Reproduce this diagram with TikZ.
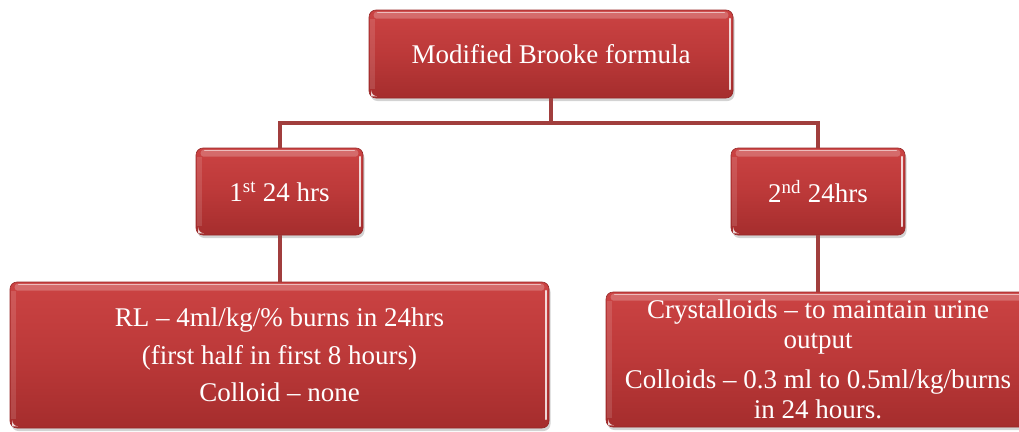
\documentclass[tikz,border=0pt]{standalone}
\usepackage{fontspec}
\setmainfont{Liberation Serif}
\usetikzlibrary{shadows,calc}
\definecolor{boxtop}{HTML}{CB4343}
\definecolor{boxmid}{HTML}{BC3939}
\definecolor{boxbot}{HTML}{A52D2D}
\definecolor{boxedge}{HTML}{962828}
\definecolor{linkred}{HTML}{A13E3D}

% glossy highlights laid over a box node
\newcommand\glossfx[1]{%
  \fill[white, opacity=0.22, rounded corners=3pt]
    ($(#1.north west)+(5,2)$) rectangle ($(#1.north east)+(-5,9)$);
  \draw[white, opacity=0.55, line width=1.2pt, line cap=round]
    ($(#1.north west)+(9,3)$) -- ($(#1.north east)+(-9,3)$);
  \draw[white, opacity=0.8, line width=1.6pt, line cap=round]
    ($(#1.north east)+(-3.5,9)$) -- ($(#1.south east)+(-3.5,-9)$);
  \fill[white, opacity=0.12]
    ($(#1.north west)+(1.5,9)$) rectangle ($(#1.south west)+(6,-9)$);
  \fill[white, opacity=0.8]
    ($(#1.south west)+(2.5,-2)$) -- ++(0,-6) arc[start angle=180, end angle=270, radius=6pt] -- cycle;
}

\begin{document}
\begin{tikzpicture}[x=1pt, y=-1pt,
  glossbox/.style={rounded corners=7pt, draw=boxedge, line width=0.6pt,
    top color=boxtop, bottom color=boxbot, middle color=boxmid,
    text=white, align=center, inner sep=0pt,
    font=\fontsize{27}{30}\selectfont,
    drop shadow={opacity=0.35, shadow xshift=1.5pt, shadow yshift=-3pt}},
  link/.style={draw=linkred, line width=4pt}]

\useasboundingbox (0,0) rectangle (1019,431);

% boxes
\node[glossbox, minimum width=364pt, minimum height=88pt] (top) at (551,54)
  {Modified Brooke formula};
\node[glossbox, minimum width=167pt, minimum height=87pt] (day1) at (279.5,191.5)
  {1\textsuperscript{st} 24 hrs};
\node[glossbox, minimum width=174pt, minimum height=87pt] (day2) at (818,191.5)
  {2\textsuperscript{nd} 24hrs};
\node[glossbox, minimum width=539pt, minimum height=146pt] (plan1) at (279.5,355)
  {RL -- 4ml/kg/\% burns in 24hrs\\[7.5pt]
   (first half in first 8 hours)\\[7.5pt]
   Colloid -- none};
\node[glossbox, minimum width=424pt, minimum height=135pt] (plan2) at (818,359.5)
  {Crystalloids -- to maintain urine\\
   output\\[10pt]
   Colloids -- 0.3 ml to 0.5ml/kg/burns\\
   in 24 hours.};

\glossfx{top}
\glossfx{day1}
\glossfx{day2}
\glossfx{plan1}
\glossfx{plan2}

% connectors
\coordinate (hub) at (551,123);
\draw[link] (top.south) -- (hub);
\draw[link] (day1.north) |- (hub);
\draw[link] (day2.north) |- (hub);
\draw[link] (day1.south) -- (plan1.north);
\draw[link] (day2.south) -- (plan2.north);
\end{tikzpicture}
\end{document}
